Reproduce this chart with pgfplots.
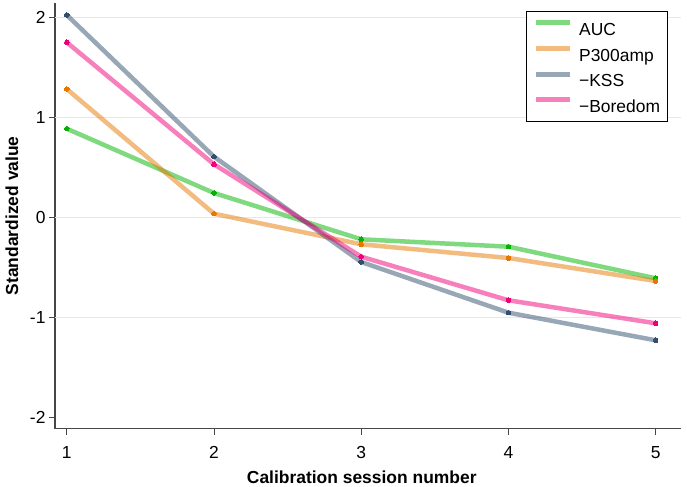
\documentclass[border=0pt]{standalone}
\usepackage{pgfplots}
\pgfplotsset{compat=1.18}
\usepackage{fontspec}
\setmainfont{Liberation Sans}
\definecolor{cauc}{RGB}{0,180,0}
\definecolor{cp300}{RGB}{230,120,0}
\definecolor{ckss}{RGB}{50,80,110}
\definecolor{cbor}{RGB}{240,0,120}
\definecolor{gridc}{RGB}{226,234,238}
\definecolor{axc}{RGB}{70,70,70}
\pgfplotsset{ser/.style={#1, line width=4.5bp, draw opacity=0.5, mark=*, mark size=2.3bp,
     mark options={solid, fill=#1, draw=#1, draw opacity=1, fill opacity=1, line width=0pt}}}
\begin{document}
\begin{tikzpicture}
\fill[white] (-55bp,-58.3bp) rectangle (632bp,428.7bp);
\useasboundingbox (-55bp,-58.3bp) rectangle (632bp,428.7bp);
\begin{axis}[
  at={(0,0)}, anchor=south west,
  scale only axis, width=626bp, height=425.7bp,
  xmin=0.92, xmax=5.172, ymin=-2.114, ymax=2.143,
  axis lines=left,
  axis line style={-, line width=1.3bp, color=axc},
  xtick={1,2,3,4,5}, xticklabels={1,2,3,4,5},
  ytick={-2,-1,0,1,2}, yticklabels={-2,-1,0,1,2},
  tick align=outside, major tick length=6bp,
  tick style={line width=1bp, color=axc},
  font=\fontsize{17.5}{21}\selectfont,
  ticklabel style={font=\fontsize{17.5}{21}\selectfont},
  xticklabel style={yshift=-8bp},
  extra y ticks={-1,0,1,2}, extra y tick labels={},
  extra y tick style={grid=major, major tick length=0pt},
  major grid style={gridc, line width=1bp},
  xlabel={\bfseries Calibration session number},
  ylabel={\bfseries Standardized value},
  xlabel style={at={(axis description cs:0.49,-0.113)}, anchor=center},
  ylabel style={at={(axis description cs:-0.069,0.5)}, anchor=center},
  legend style={at={(axis description cs:0.752,0.981)}, anchor=north west,
    draw=black, line width=0.8bp, inner xsep=7bp, inner ysep=9bp,
    font=\fontsize{17.5}{21}\selectfont, row sep=10.5bp, column sep=0bp,
    nodes={inner sep=0pt, text height=12.6bp, text depth=0pt}},
  legend cell align=left,
  legend image code/.code={\draw[#1, mark=none, line width=5bp] (0bp,6.3bp) -- (34bp,6.3bp);},
]
\addplot[ser=cauc] coordinates {(1,0.886) (2,0.243) (3,-0.22) (4,-0.294) (5,-0.61)};
\addlegendentry{\hspace{7bp}AUC}
\addplot[ser=cp300] coordinates {(1,1.283) (2,0.036) (3,-0.27) (4,-0.407) (5,-0.637)};
\addlegendentry{\hspace{7bp}P300amp}
\addplot[ser=ckss] coordinates {(1,2.023) (2,0.606) (3,-0.447) (4,-0.954) (5,-1.23)};
\addlegendentry{\hspace{7bp}−KSS}
\addplot[ser=cbor] coordinates {(1,1.75) (2,0.53) (3,-0.394) (4,-0.83) (5,-1.06)};
\addlegendentry{\hspace{7bp}−Boredom\hspace{12bp}}
\end{axis}
\end{tikzpicture}
\end{document}
